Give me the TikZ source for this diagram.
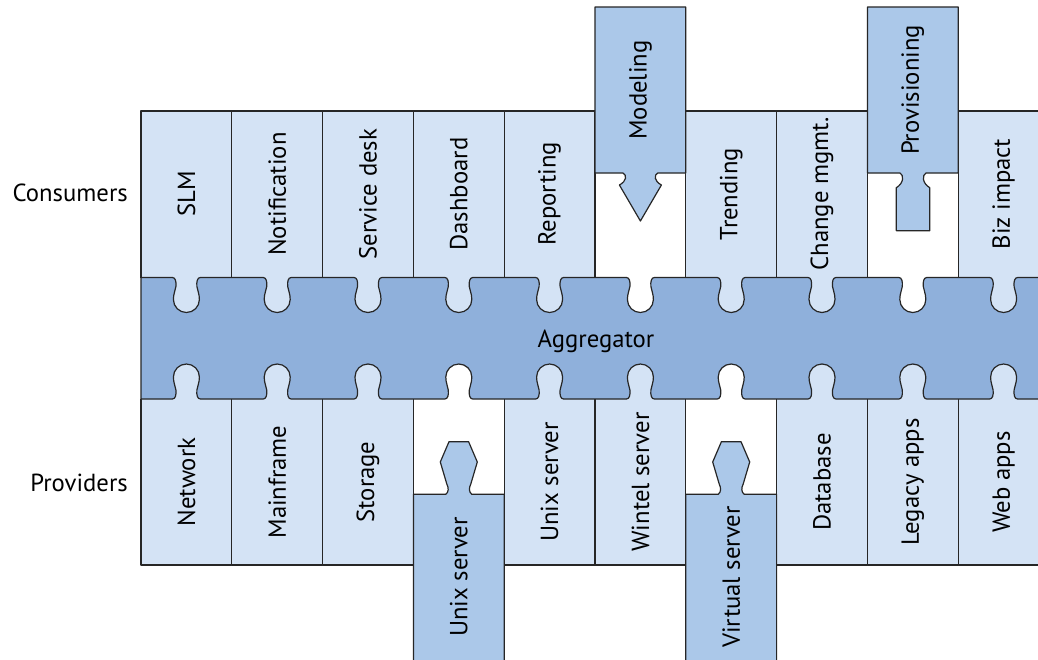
\documentclass[tikz,border=0pt]{standalone}
\usepackage{fontspec}
\setmainfont{PT Sans}
\definecolor{lightc}{HTML}{D4E3F5}
\definecolor{aggc}{HTML}{8FB0DB}
\definecolor{piecec}{HTML}{ABC8E9}
\tikzset{
  outl/.style={draw=black!85, line width=1.2pt, line join=round},
  lbl/.style={font=\fontsize{24.7}{28}\selectfont, inner sep=0pt},
  vlbl/.style={lbl, rotate=90},
}
\begin{document}
\begin{tikzpicture}[x=1pt,y=-1pt]
\useasboundingbox (0,0) rectangle (1038,659);
\clip (0,0) rectangle (1038,659);
\fill[white] (0,0) rectangle (1038,659);
% fills under aggregator (tab regions)
\foreach \i in {0,...,10} {
  \pgfmathsetmacro{\xl}{141+90.8*\i}
  \pgfmathsetmacro{\xr}{141+90.8*(\i+1)}
  \ifnum\i=5 \else\ifnum\i=8 \else
    \fill[lightc] (\xl,276) rectangle (\xr,338);
  \fi\fi
  \ifnum\i=3 \else\ifnum\i=6 \else
    \fill[lightc] (\xl,338) rectangle (\xr,401);
  \fi\fi
}
% consumer boxes
\foreach \i in {0,1,2,3,4,6,7,9,10} {
  \pgfmathsetmacro{\xl}{141+90.8*\i}
  \pgfmathsetmacro{\xr}{141+90.8*(\i+1)}
  \path[outl, fill=lightc] (\xl,277.5) -- (\xl,111) -- (\xr,111) -- (\xr,277.5);
}
% white gaps for Modeling / Provisioning columns: side lines only
\draw[outl] (595,173) -- (595,277.5);
\draw[outl] (685.8,173) -- (685.8,277.5);
\draw[outl] (867.4,173) -- (867.4,277.5);
\draw[outl] (958.2,173) -- (958.2,277.5);
% provider boxes
\foreach \i in {0,1,2,4,5,7,8,9,10} {
  \pgfmathsetmacro{\xl}{141+90.8*\i}
  \pgfmathsetmacro{\xr}{141+90.8*(\i+1)}
  \path[outl, fill=lightc] (\xl,399) -- (\xl,565) -- (\xr,565) -- (\xr,399);
}
% Modeling piece
\def\c{640.4}
\path[outl, fill=piecec] (595,7) -- (685.8,7) -- (685.8,173) -- (\c+17.4,173)
  .. controls (\c+13.5,175) and (\c+13.5,181) .. (\c+21,185) -- (\c,221) -- (\c-21,185)
  .. controls (\c-13.5,181) and (\c-13.5,175) .. (\c-17.4,173) -- (595,173) -- cycle;
% Provisioning piece
\def\c{913}
\path[outl, fill=piecec] (867.4,7) -- (958.2,7) -- (958.2,173) -- (\c+13,173)
  .. controls (\c+9,175) and (\c+9,183) .. (\c+16.7,187.7) -- (\c+16.7,230.7) -- (\c-16.7,230.7) -- (\c-16.7,187.7)
  .. controls (\c-9,183) and (\c-9,175) .. (\c-13,173) -- (867.4,173) -- cycle;
% Unix server (bottom) piece
\def\c{458.8}
\path[outl, fill=piecec] (413.4,680) -- (413.4,494.3) -- (\c-13,494.3)
  .. controls (\c-10,492) and (\c-10,488) .. (\c-12,484) -- (\c-18.5,462) -- (\c-9.8,441.7)
  -- (\c+9.8,441.7) -- (\c+18.5,462) -- (\c+12,484)
  .. controls (\c+10,488) and (\c+10,492) .. (\c+13,494.3) -- (504.2,494.3) -- (504.2,680) -- cycle;
% Virtual server piece
\def\c{731.2}
\path[outl, fill=piecec] (685.8,680) -- (685.8,494.3) -- (\c-13,494.3)
  .. controls (\c-10,492) and (\c-10,488) .. (\c-12,484) -- (\c-18.5,462) -- (\c-9.8,441.7)
  -- (\c+9.8,441.7) -- (\c+18.5,462) -- (\c+12,484)
  .. controls (\c+10,488) and (\c+10,492) .. (\c+13,494.3) -- (776.6,494.3) -- (776.6,680) -- cycle;
% Aggregator
\path[outl, fill=aggc] (141,277.5)
  \foreach \i in {0,...,10} {
    [/utils/exec={\pgfmathsetmacro{\c}{141+90.8*(\i+0.5)}}]
    -- (\c-14,277.5) .. controls (\c-11,277.5) and (\c-10,281.5) .. (\c-10.5,286.5)
    .. controls (\c-11,290.5) and (\c-13,293.5) .. (\c-13,299.5)
    .. controls (\c-13,306.7) and (\c-7.2,312.5) .. (\c,312.5)
    .. controls (\c+7.2,312.5) and (\c+13,306.7) .. (\c+13,299.5)
    .. controls (\c+13,293.5) and (\c+11,290.5) .. (\c+10.5,286.5)
    .. controls (\c+10,281.5) and (\c+11,277.5) .. (\c+14,277.5)
  }
  -- (1100,277.5) -- (1100,399)
  \foreach \i in {10,9,...,0} {
    [/utils/exec={\pgfmathsetmacro{\c}{141+90.8*(\i+0.5)}}]
    -- (\c+14,399) .. controls (\c+11,399) and (\c+10,395) .. (\c+10.5,390)
    .. controls (\c+11,386) and (\c+13,383) .. (\c+13,377)
    .. controls (\c+13,369.8) and (\c+7.2,364) .. (\c,364)
    .. controls (\c-7.2,364) and (\c-13,369.8) .. (\c-13,377)
    .. controls (\c-13,383) and (\c-11,386) .. (\c-10.5,390)
    .. controls (\c-10,395) and (\c-11,399) .. (\c-14,399)
  }
  -- (141,399) -- cycle;
% labels
\node[lbl, anchor=base east] (cons) at (128,201.7) {Consumers};
\node[lbl, anchor=base east] (prov) at (128,491.7) {Providers};
\node[lbl, anchor=base] (agg) at (596,347) {Aggregator};
\node[vlbl] (c0) at (186.4,194) {SLM};
\node[vlbl] (c1) at (277.2,194) {Notification};
\node[vlbl] (c2) at (368,194) {Service desk};
\node[vlbl] (c3) at (458.8,194) {Dashboard};
\node[vlbl] (c4) at (549.6,194) {Reporting};
\node[vlbl] (c5) at (640.4,90) {Modeling};
\node[vlbl] (c6) at (731.2,194) {Trending};
\node[vlbl] (c7) at (822,194) {Change mgmt.};
\node[vlbl] (c8) at (912.8,90) {Provisioning};
\node[vlbl] (c9) at (1003.6,194) {Biz impact};
\node[vlbl] (p0) at (186.4,482) {Network};
\node[vlbl] (p1) at (277.2,482) {Mainframe};
\node[vlbl] (p2) at (368,482) {Storage};
\node[vlbl] (p3) at (458.8,577) {Unix server};
\node[vlbl] (p4) at (549.6,482) {Unix server};
\node[vlbl] (p5) at (640.4,482) {Wintel server};
\node[vlbl] (p6) at (731.2,577) {Virtual server};
\node[vlbl] (p7) at (822,482) {Database};
\node[vlbl] (p8) at (912.8,482) {Legacy apps};
\node[vlbl] (p9) at (1003.6,482) {Web apps};
\end{tikzpicture}
\end{document}
